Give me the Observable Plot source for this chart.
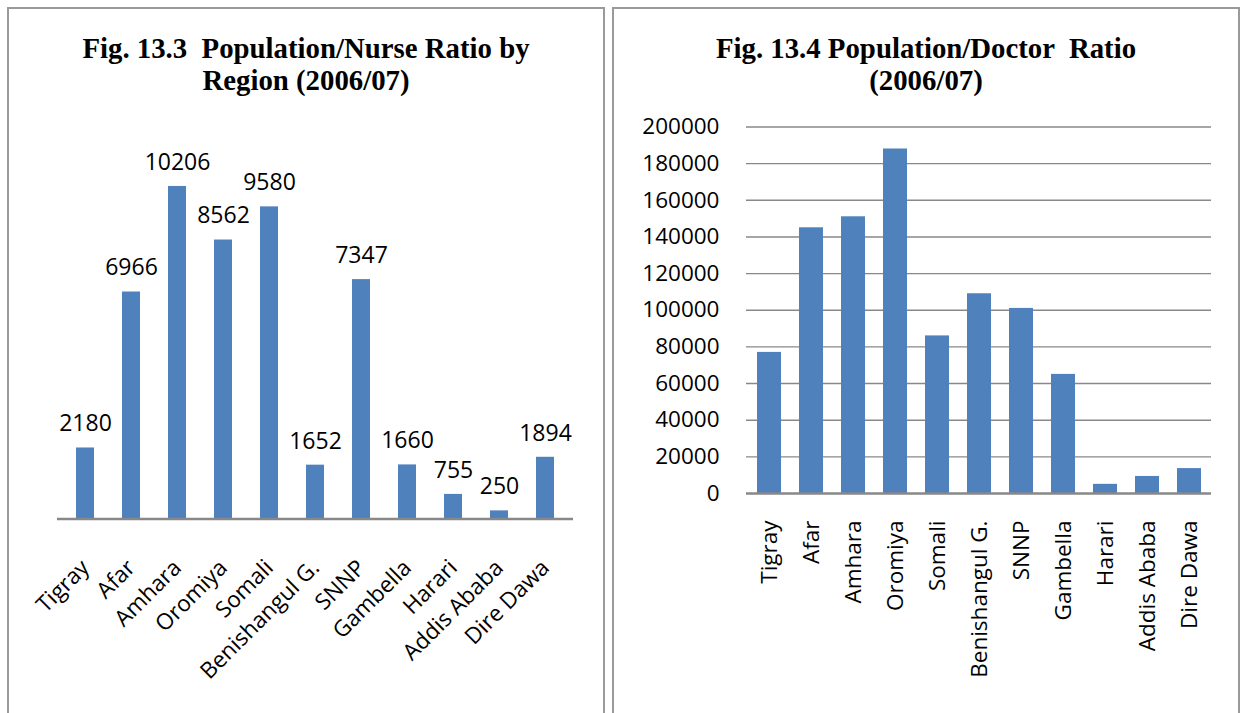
<!DOCTYPE html>
<html>
<head>
<meta charset="utf-8">
<script src="https://cdn.jsdelivr.net/npm/d3@7"></script>
<script src="https://cdn.jsdelivr.net/npm/@observablehq/plot@0.6"></script>
<style>
  html, body { margin: 0; padding: 0; background: #fff; }
  #page { position: relative; width: 1241px; height: 713px; overflow: hidden; background: #fff; }
  .panel { position: absolute; top: 7px; height: 720px; border: 2px solid #9a9a9a; box-sizing: border-box; }
  .title { position: absolute; font-family: "Liberation Serif", "Times New Roman", serif; font-weight: bold;
           font-size: 28.8px; line-height: 32px; text-align: center; white-space: pre; color: #000; }
  .chart { position: absolute; top: 0; }
  .chart svg { overflow: visible; }
</style>
</head>
<body>
<div id="page">
  <div class="panel" style="left:7px; width:598px;"></div>
  <div class="panel" style="left:612px; width:628px;"></div>
  <div class="title" id="t1" style="left:7px; width:598px; top:32px;"></div>
  <div class="title" id="t2" style="left:612px; width:628px; top:32px;"></div>
  <div class="chart" id="c1" style="left:0px;"></div>
  <div class="chart" id="c2" style="left:612px;"></div>
</div>
<script>
// ---- data ----
const regions = ["Tigray", "Afar", "Amhara", "Oromiya", "Somali", "Benishangul G.", "SNNP", "Gambella", "Harari", "Addis Ababa", "Dire Dawa"];
const nurseRatio = [2180, 6966, 10206, 8562, 9580, 1652, 7347, 1660, 755, 250, 1894];
const doctorRatio = [77000, 145000, 151000, 188000, 86000, 109000, 101000, 65000, 5000, 9300, 13600];
const doctorTicks = [0, 20000, 40000, 60000, 80000, 100000, 120000, 140000, 160000, 180000, 200000];
const title1 = "Fig. 13.3  Population/Nurse Ratio by\nRegion (2006/07)";
const title2 = "Fig. 13.4 Population/Doctor  Ratio\n(2006/07)";

document.getElementById("t1").textContent = title1;
document.getElementById("t2").textContent = title2;

const nurseData = regions.map((r, i) => ({region: r, value: nurseRatio[i]}));
const doctorData = regions.map((r, i) => ({region: r, value: doctorRatio[i]}));

const barColor = "#4F81BD";
const axisGray = "#888888";
const font = "'Open Sans', sans-serif";

const chart1 = Plot.plot({
  width: 605,
  height: 713,
  marginLeft: 57,
  marginRight: 32,
  marginTop: 127.5,
  marginBottom: 194.5,
  style: {fontFamily: font, fontSize: "22.5px", color: "#000", background: "transparent"},
  x: {domain: regions, paddingInner: 0.6, paddingOuter: 0.3},
  y: {domain: [0, 12000], axis: null},
  marks: [
    Plot.barY(nurseData, {x: "region", y: "value", fill: barColor}),
    Plot.ruleY([0], {stroke: axisGray, strokeWidth: 2.5}),
    Plot.text(nurseData, {x: "region", y: "value", text: d => String(d.value), lineAnchor: "middle", dy: -24, fill: "#000", fontSize: 23}),
    Plot.axisX({tickRotate: -45, tickSize: 0, tickPadding: 45, fontSize: 22.5, label: null, fill: "#000"})
  ]
});
document.getElementById("c1").append(chart1);

const chart2 = Plot.plot({
  width: 629,
  height: 713,
  marginLeft: 134,
  marginRight: 30,
  marginTop: 126.5,
  marginBottom: 220,
  style: {fontFamily: font, fontSize: "22.5px", color: "#000", background: "transparent"},
  x: {domain: regions, paddingInner: 0.43, paddingOuter: 0.215},
  y: {domain: [0, 200000]},
  marks: [
    Plot.ruleY(doctorTicks.slice(1), {stroke: axisGray, strokeWidth: 1.4}),
    Plot.barY(doctorData, {x: "region", y: "value", fill: barColor}),
    Plot.ruleY([0], {stroke: axisGray, strokeWidth: 2.5}),
    Plot.axisY({ticks: doctorTicks, tickFormat: d => String(d), tickSize: 0, tickPadding: 27, fontSize: 22.5, label: null, fill: "#000"}),
    Plot.axisX({tickRotate: -90, tickSize: 0, tickPadding: 27, fontSize: 22.5, label: null, fill: "#000"})
  ]
});
document.getElementById("c2").append(chart2);
</script>
</body>
</html>
